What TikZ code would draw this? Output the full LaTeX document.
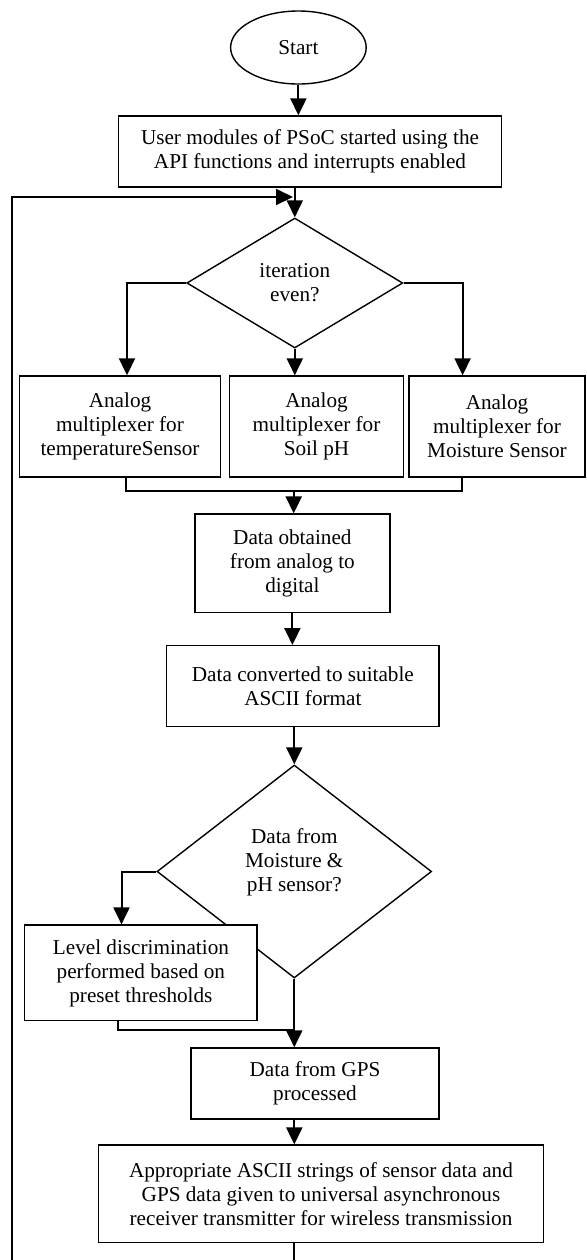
\documentclass[tikz,border=0pt]{standalone}
\usepackage{fontspec}
\setmainfont{Liberation Serif}
\usetikzlibrary{shapes.geometric,arrows.meta}

\begin{document}
\begin{tikzpicture}[
  x=0.5pt, y=-0.5pt,
  every node/.style={inner sep=1pt, align=center, font=\fontsize{10.6}{12}\selectfont},
  term/.style={ellipse, draw, line width=0.7pt, minimum width=67.8pt, minimum height=36.5pt},
  proc/.style={rectangle, draw, fill=white, line width=0.7pt},
  decide/.style={diamond, draw, line width=0.7pt, inner sep=0pt},
  edge/.style={draw, line width=1pt},
  arrow/.style={draw, line width=1pt, -{Triangle[length=8.5pt,width=8pt]}}]

  \useasboundingbox (0,0) rectangle (586,1260);

  \node[term] (start) at (298.4, 47.5) {Start};
  \node[proc, minimum width=191.4pt, minimum height=35.5pt] (psoc) at (310, 151.5)
    {User modules of PSoC started using the\\API functions and interrupts enabled};
  \node[decide, minimum width=108pt, minimum height=65pt] (iter) at (294.8, 283) {iteration\\even?};

  \node[proc, minimum width=100.5pt, minimum height=50.5pt] (tempmux)  at (120, 426.5)
    {Analog\\multiplexer for\\temperatureSensor};
  \node[proc, minimum width=87pt, minimum height=50.5pt]    (phmux)    at (316.5, 426.5)
    {Analog\\multiplexer for\\Soil pH};
  \node[proc, minimum width=88pt, minimum height=50.5pt]    (moistmux) at (497, 426.5)
    {Analog\\multiplexer for\\Moisture Sensor};

  \node[proc, minimum width=97.4pt, minimum height=49.3pt] (adc)   at (292.4, 563.4)
    {Data obtained\\from analog to\\digital};
  \node[proc, minimum width=136.2pt, minimum height=40.5pt] (ascii) at (302.9, 686.2)
    {Data converted to suitable\\ASCII format};

  \node[decide, minimum width=137.3pt, minimum height=106.5pt] (sensq) at (294.3, 871.5) {};
  \node (sensqtext) at (294.3, 862) {Data from\\Moisture \&\\pH sensor?};

  \node[proc, minimum width=116.2pt, minimum height=47.8pt] (level) at (140.9, 972.9)
    {Level discrimination\\performed based on\\preset thresholds};
  \node[proc, minimum width=124pt, minimum height=35.5pt]   (gps)   at (315, 1083.5)
    {Data from GPS\\processed};
  \node[proc, minimum width=222.4pt, minimum height=48.8pt] (uart)  at (321, 1193.9)
    {Appropriate ASCII strings of sensor data and\\GPS data given to universal asynchronous\\receiver transmitter for wireless transmission};

  \coordinate (loopin) at (293, 197);
  \coordinate (loopst) at (12.3, 1260);
  \coordinate (merge)  at (293.7, 490.7);
  \coordinate (fjoin)  at (294.3, 1030);
  \coordinate (hend)   at (294.3, 1260);

  \draw[arrow] (start) -- (start.south |- psoc.north);
  \draw[arrow] (iter.north |- psoc.south) -- (iter.north);
  \draw[arrow] (loopst) |- (loopin);

  \draw[arrow] (iter.west) -| ([xshift=3.5pt]tempmux.north);
  \draw[arrow] (iter.south) -- (iter.south |- phmux.north);
  \draw[arrow] (iter.east) -| ([xshift=-17.2pt]moistmux.north);

  \draw[edge] ([xshift=2.8pt]tempmux.south) |- (merge) -| ([xshift=-17.5pt]moistmux.south);
  \draw[arrow] (merge) -- (merge |- adc.north);
  \draw[arrow] (adc.south) -- (adc.south |- ascii.north);
  \draw[arrow] (sensq.north |- ascii.south) -- (sensq.north);

  \draw[arrow] (sensq.west) -| ([xshift=-9.7pt]level.north);
  \draw[edge] ([xshift=-11.6pt]level.south) |- (fjoin);
  \draw[arrow] (sensq.south) -- (sensq.south |- gps.north);
  \draw[arrow] (sensq.south |- gps.south) -- (sensq.south |- uart.north);
  \draw[edge] (sensq.south |- uart.south) -- (hend);

\end{tikzpicture}
\end{document}
